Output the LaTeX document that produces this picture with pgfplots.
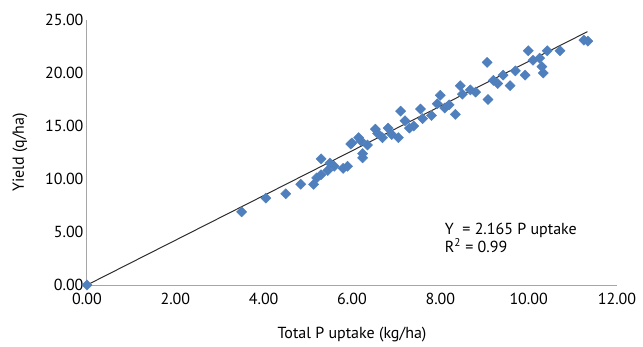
\documentclass[border=0pt]{standalone}
\usepackage{pgfplots}
\pgfplotsset{compat=1.18}
\usepackage{fontspec}
\setmainfont{PT Sans}
\definecolor{markblue}{HTML}{4F7FBC}
\definecolor{axisgrey}{HTML}{A6A6A6}
\definecolor{trend}{HTML}{2E2E2E}
\begin{document}
\begin{tikzpicture}
\begin{axis}[
  at={(0,0)}, anchor=south west,
  scale only axis, width=530pt, height=265pt,
  xmin=0, xmax=12, ymin=0, ymax=25,
  xtick={0,2,...,12}, ytick={0,5,...,25},
  axis x line*=bottom, axis y line*=left,
  axis line style={axisgrey, line width=1pt, -},
  major tick length=0pt,
  clip=false,
  /pgf/number format/assume math mode=true,
  xticklabel={\pgfmathprintnumber[fixed,fixed zerofill,precision=2]{\tick}},
  yticklabel={\pgfmathprintnumber[fixed,fixed zerofill,precision=2]{\tick}},
  ticklabel style={font=\fontsize{16}{18}\selectfont, text=black},
  xticklabel style={yshift=-5pt},
  yticklabel style={xshift=0pt},
  xlabel={Total P uptake (kg/ha)},
  ylabel={Yield (q/ha)},
  label style={font=\fontsize{16}{18}\selectfont},
  xlabel style={at={(axis description cs:0.5,0)}, anchor=center, yshift=-50pt},
  ylabel style={at={(axis description cs:-0.1264,0.5)}, anchor=center},
]
\addplot[trend, line width=1pt] coordinates {(0,0) (11.33,23.9)};
\addplot[only marks, mark=square*, mark size=3.6pt,
  mark options={rotate=45, fill=markblue, draw=markblue}] coordinates {
(0,0)
(3.5,6.9) (4.05,8.2) (4.5,8.6) (4.84,9.5) (5.13,9.5)
(5.2,10.1) (5.3,11.9) (5.3,10.4) (5.45,10.8) (5.5,11.5) (5.6,11.2)
(5.8,11.0) (5.9,11.2) (5.97,13.3) (6.0,13.4) (6.15,13.9) (6.2,13.6)
(6.24,12.0) (6.24,12.4) (6.35,13.2) (6.58,14.3) (6.53,14.7) (6.69,13.9)
(6.82,14.8) (6.9,14.2) (7.05,13.9) (7.1,16.4) (7.2,15.5) (7.3,14.8)
(7.4,15.0) (7.55,16.6) (7.6,15.7) (7.8,16.0) (7.93,17.1) (8.0,17.9)
(8.1,16.7) (8.2,17.0) (8.34,16.1) (8.45,18.8) (8.5,18.0) (8.68,18.4)
(8.8,18.2) (9.06,21.0) (9.08,17.5) (9.2,19.3) (9.3,19.0) (9.42,19.8)
(9.58,18.8) (9.7,20.2) (9.92,19.8) (9.99,22.1) (10.1,21.2) (10.33,20.0)
(10.25,21.4) (10.42,22.1) (10.3,20.6) (10.71,22.1) (11.25,23.1) (11.34,23.0)
};
\node[anchor=west, font=\fontsize{16}{18}\selectfont, align=left, inner sep=0pt] at (axis cs:8.1,4.4)
  {Y\ \ = 2.165 P uptake\\R\textsuperscript{2} = 0.99};
\end{axis}
\pgfresetboundingbox
\path[use as bounding box] (-87pt,-61pt) rectangle (556pt,285pt);
\end{tikzpicture}
\end{document}
